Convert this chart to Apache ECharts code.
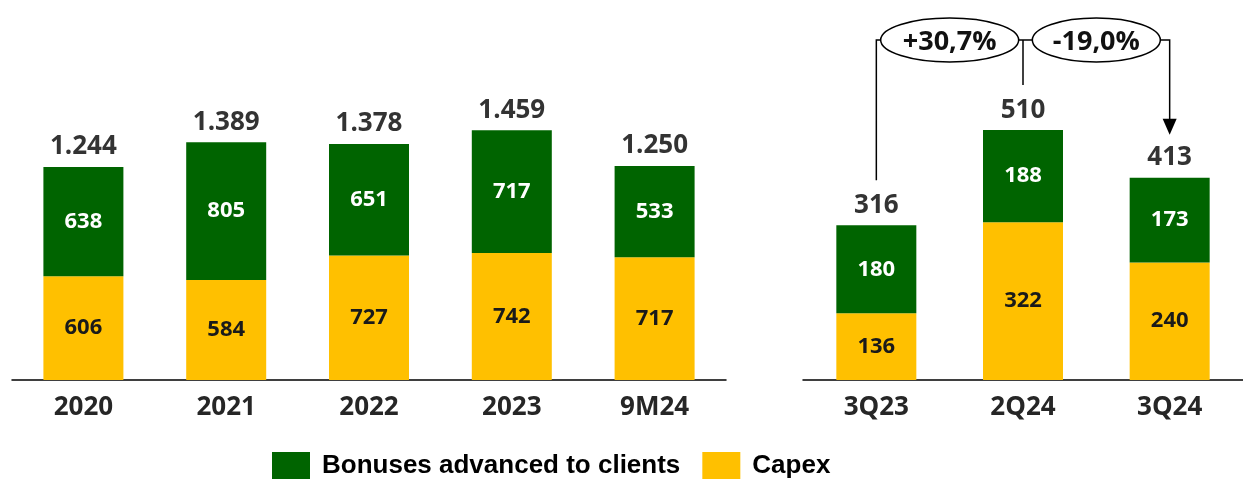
<!DOCTYPE html>
<html><head><meta charset="utf-8">
<script src="https://cdn.jsdelivr.net/npm/echarts@6/dist/echarts.min.js"></script>
<style>html,body{margin:0;padding:0;background:#fff}#c{width:1243px;height:482px}</style>
</head><body><div id="c"></div>
<script>
const yearCats = ['2020','2021','2022','2023','9M24'];
const yearCapex = [606,584,727,742,717];
const yearBonus = [638,805,651,717,533];
const yearTotal = [1244,1389,1378,1459,1250];
const qCats = ['3Q23','2Q24','3Q24'];
const qCapex = [136,322,240];
const qBonus = [180,188,173];
const qTotal = [316,510,413];
const changes = ['+30,7%','-19,0%'];

const GREEN = '#006400', YELLOW = '#FFC000';
const FONT = '"Open Sans", sans-serif';
const fmt = v => String(v).replace(/\B(?=(\d{3})+(?!\d))/g, '.');

const chart = echarts.init(document.getElementById('c'));
const xAxisCommon = {
  type:'category', axisTick:{show:false},
  axisLine:{lineStyle:{color:'#000', width:1.5}},
  axisLabel:{color:'#262626', fontFamily:FONT, fontWeight:'bold', fontSize:26, margin:15}
};
const inLabelG = {show:true, position:'inside', color:'#fff', fontFamily:FONT, fontWeight:'bold', fontSize:22};
const inLabelY = {show:true, position:'inside', color:'#1a1a1a', fontFamily:FONT, fontWeight:'bold', fontSize:22};
// zero-height stacked bar carrying the total label on top of each stack
const totLabel = {show:true, position:'top', distance:7, color:'#333333', fontFamily:FONT, fontWeight:'bold', fontSize:26,
  formatter: p => fmt(p.data.total)};
const totData = arr => arr.map(t => ({value:0, total:t}));

chart.setOption({
  animation:false,
  grid:[
    {left:12, width:714, bottom:102, top:106},
    {left:803, width:450, bottom:102, top:86}
  ],
  xAxis:[
    Object.assign({gridIndex:0, data:yearCats}, xAxisCommon),
    Object.assign({gridIndex:1, data:qCats}, xAxisCommon)
  ],
  yAxis:[
    {gridIndex:0, type:'value', min:0, max:1600, show:false, splitLine:{show:false}},
    {gridIndex:1, type:'value', min:0, max:600, show:false, splitLine:{show:false}}
  ],
  legend:{
    left:272, top:452, padding:0, itemWidth:38, itemHeight:27, itemGap:22,
    data:['Bonuses advanced to clients','Capex'],
    textStyle:{fontFamily:'"Liberation Sans", Arial, sans-serif', fontWeight:'bold', fontSize:26, color:'#000', padding:[0,0,0,7]},
    icon:'rect'
  },
  series:[
    {name:'Capex', type:'bar', stack:'a', xAxisIndex:0, yAxisIndex:0, data:yearCapex, barWidth:80, itemStyle:{color:YELLOW}, label:inLabelY},
    {name:'Bonuses advanced to clients', type:'bar', stack:'a', xAxisIndex:0, yAxisIndex:0, data:yearBonus, barWidth:80, itemStyle:{color:GREEN}, label:inLabelG},
    {name:'total', type:'bar', stack:'a', xAxisIndex:0, yAxisIndex:0, data:totData(yearTotal), barWidth:80, itemStyle:{color:'transparent'}, label:totLabel, silent:true},
    {name:'Capex', type:'bar', stack:'b', xAxisIndex:1, yAxisIndex:1, data:qCapex, barWidth:80, itemStyle:{color:YELLOW}, label:inLabelY},
    {name:'Bonuses advanced to clients', type:'bar', stack:'b', xAxisIndex:1, yAxisIndex:1, data:qBonus, barWidth:80, itemStyle:{color:GREEN}, label:inLabelG},
    {name:'total', type:'bar', stack:'b', xAxisIndex:1, yAxisIndex:1, data:totData(qTotal), barWidth:80, itemStyle:{color:'transparent'}, label:totLabel, silent:true}
  ]
});

// annotation bracket, positioned from the chart's own scales
const pt = i => chart.convertToPixel({xAxisIndex:1, yAxisIndex:1}, [i, qTotal[i]]);
const p0 = pt(0), p1 = pt(1), p2 = pt(2);
const yTop = 40, gap = 45;
const lineStyle = {stroke:'#000', lineWidth:1.5};
const ellText = {fontFamily:FONT, fontWeight:'bold', fontSize:27, fill:'#111', align:'center', verticalAlign:'middle'};
const c1 = (p0[0]+p1[0])/2, c2 = (p1[0]+p2[0])/2;
chart.setOption({
  graphic:[
    {type:'polyline', z:10, shape:{points:[[p0[0], p0[1]-gap],[p0[0], yTop],[p2[0], yTop],[p2[0], p2[1]-gap-12]]}, style:lineStyle},
    {type:'line', z:10, shape:{x1:p1[0], y1:yTop, x2:p1[0], y2:p1[1]-gap}, style:lineStyle},
    {type:'polygon', z:10, shape:{points:[[p2[0]-7, p2[1]-gap-14],[p2[0]+7, p2[1]-gap-14],[p2[0], p2[1]-gap+2]]}, style:{fill:'#000'}},
    {type:'ellipse', z:11, shape:{cx:c1, cy:yTop, rx:69, ry:22}, style:{fill:'#fff', stroke:'#000', lineWidth:1.5}},
    {type:'text', z:12, x:c1, y:yTop+2, style:Object.assign({text:changes[0]}, ellText)},
    {type:'ellipse', z:11, shape:{cx:c2, cy:yTop, rx:64, ry:22}, style:{fill:'#fff', stroke:'#000', lineWidth:1.5}},
    {type:'text', z:12, x:c2, y:yTop+2, style:Object.assign({text:changes[1]}, ellText)}
  ]
});
</script></body></html>
